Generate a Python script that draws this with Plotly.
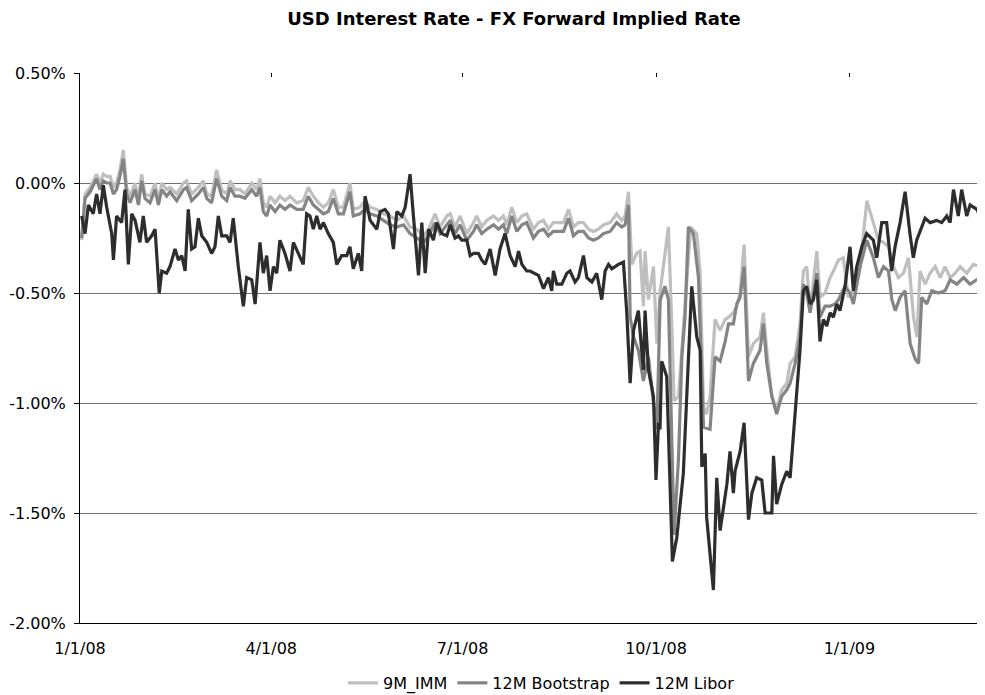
import pandas as pd
import plotly.graph_objects as go

# ---------------- data (values in %, x = days since 2008-01-01) ----------------
START = pd.Timestamp("2008-01-01")

imm_day = [0.8, 2.4, 4.8, 7.9, 9.5, 11.1, 12.7, 14.3, 15.9, 17.4, 19.0, 20.6, 22.2, 23.8, 26.2, 27.8, 29.3, 30.9, 33.3, 35.7,
           37.3, 38.9, 41.2, 42.8, 46.0, 49.2, 50.7, 53.1, 56.3, 58.7, 60.3, 62.6, 65.0, 67.4, 69.8, 71.4, 73.7, 76.1, 78.5, 81.7,
           84.0, 85.6, 87.2, 88.8, 90.4, 92.8, 95.1, 97.5, 99.9, 103.1, 106.2, 108.6, 111.0, 113.4, 115.8, 118.1, 120.5, 122.9, 125.3, 128.4,
           130.0, 133.2, 135.6,
           138.0, 141.2, 144.3, 147.5, 150.7, 153.9, 157.0, 160.2, 163.4, 165.8, 168.9, 171.3, 174.5, 176.1, 178.4, 180.8, 184.0, 187.2, 188.7, 191.1,
           193.5, 196.7, 199.1, 201.4, 203.0, 205.4, 207.8, 210.2, 212.5, 215.7, 218.1, 220.5, 222.8, 225.2, 227.6, 230.0, 232.4, 234.7, 237.1, 239.5,
           241.9, 244.2, 246.6, 249.0, 252.2, 255.3, 257.7, 259.3,
           260.9, 262.5, 264.8, 266.4, 268.0, 268.8, 270.4, 272.8, 274.4, 276.0, 277.5, 279.9, 281.5, 282.6, 284.7, 287.0, 289.4, 290.5, 293.4, 295.0,
           296.6, 298.1, 299.7, 302.1, 304.5, 306.9, 308.5, 310.8, 312.4, 314.0, 315.9, 318.0, 320.3, 323.5, 325.1, 326.7, 329.1, 331.4, 333.8, 336.2,
           337.8, 340.2, 342.5, 344.1, 345.7, 347.3, 350.5,
           352.0, 354.4, 356.8, 358.4, 360.8, 363.1, 365.5, 367.9, 371.1,
           374.3, 377.4, 379.8, 382.2, 384.6, 387.0, 389.3, 391.7, 394.1, 396.5, 398.1, 399.6, 402.0, 404.4, 406.8, 409.2, 411.5, 413.9, 416.3, 418.7,
           421.8, 425.0, 428.2, 430.6]
imm_val = [-0.26, -0.05, -0.02, 0.04, 0.00, 0.04, 0.03, 0.03, -0.02, 0.00, 0.06, 0.15, -0.02, -0.06, 0.00, -0.08, 0.04, -0.05, -0.06, 0.00,
           -0.08, 0.00, -0.03, -0.02, -0.05, 0.00, 0.01, -0.05, -0.02, 0.01, -0.05, -0.06, 0.06, -0.03, -0.05, 0.01, -0.03, -0.03, -0.05, 0.00,
           -0.03, 0.02, -0.09, -0.11, -0.06, -0.09, -0.06, -0.08, -0.06, -0.09, -0.08, -0.02, -0.06, -0.09, -0.11, -0.09, -0.03, -0.11, -0.11, 0.00,
           -0.12, -0.11, -0.08,
           -0.11, -0.12, -0.14, -0.15, -0.17, -0.15, -0.20, -0.21, -0.24, -0.21, -0.14, -0.20, -0.15, -0.14, -0.20, -0.15, -0.23, -0.18, -0.15, -0.20,
           -0.17, -0.15, -0.17, -0.15, -0.19, -0.11, -0.18, -0.15, -0.14, -0.21, -0.18, -0.17, -0.21, -0.18, -0.18, -0.18, -0.12, -0.20, -0.18, -0.18,
           -0.21, -0.22, -0.21, -0.19, -0.18, -0.14, -0.17, -0.15,
           -0.04, -0.37, -0.32, -0.31, -0.56, -0.31, -0.53, -0.38, -0.73, -0.49, -0.38, -0.20, -0.64, -0.99, -0.97, -0.67, -0.38, -0.20, -0.23, -0.41,
           -1.02, -1.05, -0.97, -0.62, -0.67, -0.62, -0.61, -0.59, -0.56, -0.50, -0.28, -0.79, -0.73, -0.70, -0.59, -0.76, -0.97, -1.03, -0.94, -0.91,
           -0.82, -0.79, -0.64, -0.40, -0.38, -0.58, -0.31,
           -0.52, -0.50, -0.43, -0.40, -0.35, -0.34, -0.52, -0.49, -0.38,
           -0.08, -0.18, -0.26, -0.27, -0.29, -0.38, -0.43, -0.41, -0.34, -0.61, -0.70, -0.40, -0.46, -0.41, -0.38, -0.43, -0.38, -0.43, -0.41, -0.38,
           -0.41, -0.37, -0.38, -0.40]

boot_day = [0.8, 2.4, 4.8, 7.9, 9.5, 11.1, 12.7, 14.3, 15.9, 17.4, 19.0, 20.6, 22.2, 23.8, 26.2, 27.8, 29.3, 30.9, 33.3, 35.7,
            37.3, 38.9, 41.2, 42.8, 46.0, 49.2, 50.7, 53.1, 56.3, 58.7, 60.3, 62.6, 65.0, 67.4, 69.8, 71.4, 73.7, 76.1, 78.5, 81.7,
            84.0, 85.6, 87.2, 88.8, 90.4, 92.8, 95.1, 97.5, 99.9, 103.1, 106.2, 108.6, 111.0, 113.4, 115.8, 118.1, 120.5, 122.9, 125.3, 128.4,
            130.0, 133.2, 135.6,
            138.0, 141.2, 144.3, 147.5, 150.7, 153.9, 157.0, 160.2, 163.4, 165.8, 168.9, 171.3, 174.5, 176.1, 178.4, 180.8, 184.0, 187.2, 188.7, 191.1,
            193.5, 196.7, 199.1, 201.4, 203.0, 205.4, 207.8, 210.2, 212.5, 215.7, 218.1, 220.5, 222.8, 225.2, 227.6, 230.0, 232.4, 234.7, 237.1, 239.5,
            241.9, 244.2, 246.6, 249.0, 252.2, 255.3, 257.7, 259.3,
            260.9, 261.7, 263.3, 265.6, 268.0, 270.4, 272.8, 274.4, 276.0, 278.3, 279.9, 281.5, 282.6, 284.7, 286.3, 287.8, 289.4, 291.8, 294.2, 296.6,
            299.7, 302.1, 304.5, 306.9, 308.5, 310.8, 312.4, 314.0, 315.9, 318.0, 320.3, 323.5, 325.1, 326.7, 329.1, 331.4, 333.8, 336.2, 337.8, 340.2,
            342.5, 344.1, 345.7, 347.3, 350.5,
            352.0, 354.4, 356.8, 359.2, 360.8, 363.9, 366.3, 367.9, 371.1,
            374.3, 377.4, 379.8, 382.2, 384.6, 386.2, 387.8, 390.1, 392.5, 394.9, 397.3, 398.9, 400.4, 402.8, 405.2, 408.4, 411.5, 413.9, 417.1, 420.3,
            423.4, 426.6, 430.6]
boot_val = [-0.25, -0.07, -0.04, 0.02, -0.03, 0.01, 0.00, 0.00, -0.05, -0.03, 0.03, 0.11, -0.05, -0.09, -0.03, -0.10, 0.01, -0.07, -0.09, -0.03,
            -0.10, -0.03, -0.06, -0.04, -0.08, -0.03, -0.02, -0.08, -0.05, -0.02, -0.07, -0.09, 0.02, -0.06, -0.08, -0.02, -0.06, -0.06, -0.07, -0.03,
            -0.06, -0.02, -0.13, -0.15, -0.10, -0.13, -0.10, -0.12, -0.10, -0.12, -0.12, -0.06, -0.10, -0.12, -0.14, -0.13, -0.07, -0.14, -0.14, -0.04,
            -0.15, -0.14, -0.12,
            -0.14, -0.15, -0.17, -0.19, -0.20, -0.19, -0.23, -0.25, -0.27, -0.24, -0.18, -0.23, -0.19, -0.17, -0.23, -0.19, -0.26, -0.22, -0.19, -0.23,
            -0.21, -0.19, -0.21, -0.19, -0.23, -0.15, -0.22, -0.19, -0.18, -0.25, -0.22, -0.21, -0.24, -0.22, -0.22, -0.22, -0.16, -0.24, -0.22, -0.22,
            -0.25, -0.26, -0.25, -0.23, -0.22, -0.18, -0.20, -0.19,
            -0.10, -0.61, -0.70, -0.76, -0.90, -0.79, -1.00, -1.12, -0.53, -0.47, -0.53, -1.15, -1.60, -1.25, -0.79, -0.61, -0.20, -0.23, -0.43, -1.11,
            -1.12, -0.79, -0.81, -0.72, -0.64, -0.64, -0.55, -0.52, -0.38, -0.90, -0.82, -0.76, -0.64, -0.82, -0.97, -1.05, -0.97, -0.94, -0.91, -0.82,
            -0.70, -0.46, -0.50, -0.59, -0.41,
            -0.61, -0.56, -0.56, -0.55, -0.53, -0.47, -0.50, -0.55, -0.38,
            -0.26, -0.34, -0.43, -0.38, -0.40, -0.53, -0.58, -0.52, -0.49, -0.73, -0.80, -0.82, -0.52, -0.55, -0.49, -0.50, -0.49, -0.44, -0.46, -0.43,
            -0.46, -0.44, -0.46]

libor_day = [0.8, 2.4, 4.0, 6.3, 7.9, 9.5, 11.1, 12.7, 15.1, 15.9, 17.4, 19.8, 21.4, 23.0, 24.6, 26.2, 28.5, 30.1, 31.7, 34.1,
             35.7, 37.7, 38.9, 41.2, 42.8, 45.2, 46.8, 48.4, 50.0, 51.5, 53.1, 54.7, 56.3, 57.9, 60.3, 62.6, 64.2, 65.8, 67.4, 69.8,
             71.4, 72.9, 75.3, 77.7, 79.3, 81.7, 83.3, 85.6, 87.2, 88.8, 90.4, 92.0, 93.6, 95.1, 97.5, 99.9, 101.5, 103.9, 106.2, 107.8,
             109.4, 111.0, 112.6, 114.2, 115.8, 118.1, 120.5, 122.1, 124.5, 126.9, 128.4, 130.0, 132.4, 134.0, 135.6,
             138.0, 141.2, 142.8, 145.1, 146.7, 149.1, 150.7, 153.1, 154.7, 157.0, 158.6, 161.0, 162.6, 164.2, 165.8, 168.1, 169.7, 172.1, 174.5, 176.1,
             178.4, 180.0, 181.6, 184.0, 185.6, 187.2, 189.5, 191.1, 192.7, 195.1, 197.5, 199.8, 202.2, 204.6, 207.0, 208.6, 210.2, 212.5, 214.1, 216.5,
             218.1, 220.5, 222.8, 224.4, 225.2, 226.8, 229.2, 231.6, 233.1, 235.5, 237.1, 239.5, 241.1, 243.5, 245.8, 248.2, 249.8, 251.4, 253.0, 256.1,
             258.5,
             260.1, 261.7, 263.3, 265.6, 268.0, 268.8, 270.4, 272.8, 274.0, 275.2, 275.9, 276.7, 279.1, 280.7, 281.8, 283.9, 287.0, 288.9, 291.0, 293.4,
             295.0, 295.8, 297.4, 298.1, 301.3, 302.9, 304.5, 307.7, 309.2, 310.8, 311.6, 314.0, 315.9, 318.0, 319.6, 321.9, 324.3, 325.9, 329.1, 329.9,
             331.4, 333.8, 336.2, 337.8, 339.4, 341.0, 342.5, 344.1, 345.7, 347.3, 348.9, 350.5,
             352.0, 353.6, 355.2, 356.8, 358.4, 360.0, 361.5, 363.9, 366.3, 367.9, 369.5, 371.9, 374.2, 377.4, 379.0, 381.4, 383.7, 386.1, 387.7, 390.1,
             392.5, 394.8, 396.4, 398.0, 399.6, 402.0, 404.4, 407.5, 409.9, 412.3, 413.9, 415.5, 417.8, 419.4, 421.8, 423.4, 426.6, 428.1, 430.5]
libor_val = [-0.15, -0.23, -0.10, -0.14, -0.05, -0.14, -0.01, -0.11, -0.23, -0.35, -0.15, -0.18, -0.03, -0.37, -0.14, -0.17, -0.27, -0.15, -0.27, -0.24,
             -0.21, -0.50, -0.40, -0.41, -0.38, -0.30, -0.35, -0.33, -0.40, -0.12, -0.30, -0.29, -0.16, -0.24, -0.27, -0.32, -0.29, -0.15, -0.24, -0.24,
             -0.27, -0.16, -0.38, -0.56, -0.43, -0.44, -0.55, -0.27, -0.41, -0.33, -0.49, -0.38, -0.41, -0.26, -0.32, -0.40, -0.27, -0.32, -0.37, -0.14,
             -0.15, -0.21, -0.15, -0.21, -0.18, -0.23, -0.27, -0.37, -0.33, -0.33, -0.29, -0.39, -0.32, -0.40, -0.06,
             -0.17, -0.21, -0.13, -0.12, -0.14, -0.30, -0.13, -0.15, -0.11, 0.04, -0.15, -0.42, -0.18, -0.41, -0.21, -0.26, -0.18, -0.23, -0.24, -0.19,
             -0.25, -0.24, -0.26, -0.26, -0.33, -0.32, -0.32, -0.35, -0.37, -0.30, -0.42, -0.30, -0.23, -0.33, -0.38, -0.31, -0.37, -0.40, -0.40, -0.41,
             -0.42, -0.48, -0.43, -0.49, -0.40, -0.46, -0.46, -0.41, -0.40, -0.45, -0.43, -0.33, -0.43, -0.45, -0.41, -0.53, -0.40, -0.37, -0.39, -0.37,
             -0.36,
             -0.59, -0.91, -0.67, -0.58, -0.85, -0.58, -0.85, -0.97, -1.35, -1.09, -1.12, -0.81, -0.88, -1.37, -1.72, -1.61, -1.32, -0.91, -0.47, -0.70,
             -0.76, -1.29, -1.23, -1.52, -1.85, -1.34, -1.58, -1.37, -1.22, -1.41, -1.31, -1.22, -1.09, -1.53, -1.41, -1.34, -1.35, -1.50, -1.50, -1.24,
             -1.46, -1.37, -1.31, -1.34, -1.15, -0.94, -0.76, -0.49, -0.47, -0.55, -0.53, -0.44,
             -0.72, -0.62, -0.65, -0.59, -0.61, -0.55, -0.58, -0.47, -0.29, -0.49, -0.38, -0.29, -0.23, -0.26, -0.34, -0.18, -0.18, -0.40, -0.29, -0.18,
             -0.04, -0.23, -0.34, -0.26, -0.22, -0.16, -0.18, -0.17, -0.18, -0.15, -0.18, -0.03, -0.15, -0.03, -0.15, -0.10, -0.12, -0.15, -0.17]

series_names = ["9M_IMM", "12M Bootstrap", "12M Libor"]
x_tick_dates = ["2008-01-01", "2008-04-01", "2008-07-01", "2008-10-01", "2009-01-01"]
x_tick_text = ["1/1/08", "4/1/08", "7/1/08", "10/1/08", "1/1/09"]
y_tick_vals = [0.5, 0.0, -0.5, -1.0, -1.5, -2.0]
y_tick_text = ["0.50%", "0.00%", "-0.50%", "-1.00%", "-1.50%", "-2.00%"]
x_end = "2009-03-06 12:00"

# ---------------- figure ----------------
colors = ["#bfbfbf", "#848484", "#2d2d2d"]
series = [(imm_day, imm_val), (boot_day, boot_val), (libor_day, libor_val)]

fig = go.Figure()
for name, (d, v), c in zip(series_names, series, colors):
    if len(d) != len(v):
        raise ValueError(f"{name}: {len(d)} days vs {len(v)} values")
    dates = START + pd.to_timedelta(d, unit="D")
    fig.add_trace(go.Scatter(x=dates, y=v, mode="lines", name=name,
                             line=dict(color=c, width=3.2)))

# the page body adds an 8px margin, so the figure is 8px smaller than the window
W, H = 977, 687
FONT = "DejaVu Sans"
fig.update_layout(
    width=W, height=H,
    margin=dict(l=72, r=0, t=65, b=72, autoexpand=False),
    paper_bgcolor="white", plot_bgcolor="white",
    font=dict(family=FONT, size=16, color="black"),
    title=dict(text="USD Interest Rate - FX Forward Implied Rate",
               xref="container", x=(514 - 8) / W, xanchor="center",
               yref="container", y=1 - (19 - 8) / H, yanchor="middle",
               font=dict(family=FONT, size=18, weight="bold", color="black")),
    showlegend=True,
    legend=dict(orientation="h", x=0.51, xanchor="center", y=-0.109, yanchor="middle",
                font=dict(family=FONT, size=16, color="black"),
                itemwidth=30, tracegroupgap=0, bgcolor="rgba(0,0,0,0)"),
    xaxis=dict(type="date", range=["2008-01-01", x_end], automargin=False,
               tickvals=x_tick_dates, ticktext=x_tick_text,
               showgrid=False, zeroline=False, showline=True, linecolor="black", linewidth=1,
               ticks="", ticklabelstandoff=11, mirror=False),
    xaxis2=dict(type="date", range=["2008-01-01", x_end], overlaying="x", side="top", anchor="y",
                tickvals=x_tick_dates, showticklabels=False, ticks="inside", ticklen=4,
                tickcolor="black", showgrid=False, zeroline=False, showline=False, automargin=False),
    yaxis=dict(range=[-2.0, 0.5], tickvals=y_tick_vals, ticktext=y_tick_text, automargin=False,
               showgrid=True, gridcolor="#6f6f6f", gridwidth=1, zeroline=False,
               showline=True, linecolor="black", linewidth=1,
               ticks="outside", ticklen=5, tickcolor="black", ticklabelstandoff=5),
)
# invisible helper trace so the top tick axis is drawn
fig.add_trace(go.Scatter(x=[START], y=[None], xaxis="x2", yaxis="y", showlegend=False,
                         hoverinfo="skip", mode="lines"))

fig.write_html("out.html")
